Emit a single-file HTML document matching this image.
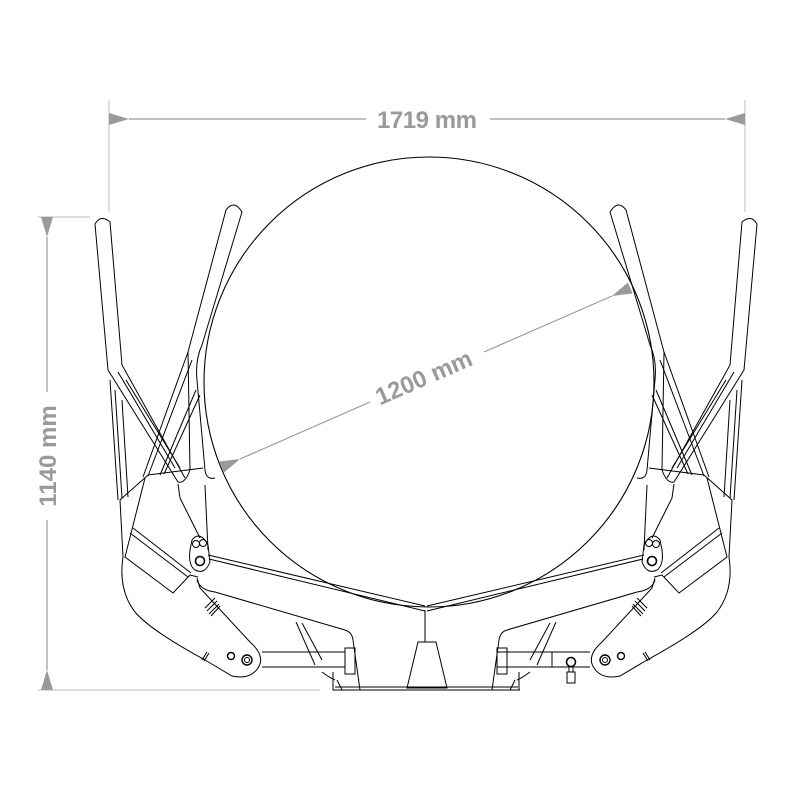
<!DOCTYPE html>
<html><head><meta charset="utf-8"><style>
html,body{margin:0;padding:0;background:#fff;width:800px;height:800px;overflow:hidden}
svg{display:block}
.d{font-family:"Liberation Sans",sans-serif;font-weight:bold;fill:#9a9a9a;font-size:24px}
</style></head><body>
<svg width="800" height="800" viewBox="0 0 800 800" xmlns="http://www.w3.org/2000/svg">
<defs>
<marker id="a" viewBox="0 0 20 12" refX="0" refY="6" markerWidth="20" markerHeight="12" markerUnits="userSpaceOnUse" orient="auto-start-reverse"><path d="M0,6 L20,0 L20,12z" fill="#9a9a9a"/></marker>
<g id="side" fill="none" stroke="#000" stroke-width="1">
  <path d="M95,224 Q101,214 110,222 L122,365 L185,478"/>
  <path d="M95,224 L108,370 L178,482"/>
  <path d="M226,210 Q234,199 242,212 L202,345 Q195,360 197,380 L205,470 Q206,480 215,478"/>
  <path d="M226,210 L188,352 L190,470 Q185,484 178,482"/>
  <path d="M110,380 L118,500 M115,390 L122,498 M122,400 L128,497"/>
  <path d="M188,352 L143,477 M192,360 L148,476 M196,390 L160,475 M200,395 L164,474"/>
  <path d="M118,372 L175,468 M126,380 L180,468"/>
  <path d="M148,475 L203,468"/>
  <path d="M148,475 L120,500 L123,557 Q118,590 135,612 Q150,630 205,660 L232,676 Q250,680 258,668 Q266,656 250,642 L200,588 L197,578"/>
  <path d="M145,478 L125,557 L173,593 L190,575 L198,577"/>
  <path d="M130,533 L188,577 M133,528 L191,573"/>
  <path d="M178,484 L180,498 L200,538 M205,485 L208,550"/>
  <path d="M192,540 Q200,530 208,545 L210,562 Q205,575 195,570 Q188,565 190,550z"/>
  <circle cx="196" cy="544" r="3.5"/><circle cx="203" cy="543" r="3.5"/>
  <circle cx="200" cy="561" r="4.5" stroke-width="1.6"/>
  <path d="M197,580 Q200,590 215,592 L345,630 Q352,632 353,640 L360,690"/>
  <path d="M296,622 L315,665 M302,623 L322,660"/>
  <path d="M322,672 Q330,678 335,680"/>
  <path d="M205,608 L215,598 M207,611 L217,601 M209,614 L219,604 M211,616 L220,606"/>
  <circle cx="231" cy="656" r="3.5" stroke-width="1.4"/>
  <circle cx="247" cy="660" r="5" stroke-width="1.4"/><circle cx="247" cy="660" r="2.5"/>
  <path d="M262,652 L345,652 M262,667 L345,667"/>
  <rect x="345" y="648" width="10" height="26"/>
  <path d="M202,660 L207,652 M204,661 L209,653"/>
  <path d="M333,672 L333,690 L362,690"/>
  <path d="M337,680 L342,690"/>
  <path d="M208,555 L425,606 M209,559 L425,611"/>
</g>
</defs>
<g stroke="#c8c8c8" stroke-width="1.2" fill="none">
<path d="M109,100 L109,212 M745,100 L745,212"/>
<path d="M38,217 L90,217 M38,690 L320,690"/>
</g>
<g stroke="#9a9a9a" stroke-width="1.2" fill="none">
<path d="M129,119 L366,119" marker-start="url(#a)"/>
<path d="M490,119 L725,119" marker-end="url(#a)"/>
<path d="M47,237 L47,392" marker-start="url(#a)"/>
<path d="M47,520 L47,670" marker-end="url(#a)"/>
<path d="M240,459 L370,402" marker-start="url(#a)"/>
<path d="M484,352 L612,296" marker-end="url(#a)"/>
</g>
<text class="d" x="427" y="128" text-anchor="middle" textLength="100">1719 mm</text>
<text class="d" transform="translate(56,456) rotate(-90)" text-anchor="middle">1140 mm</text>
<text class="d" transform="translate(427,385) rotate(-23.5)" text-anchor="middle">1200 mm</text>
<circle cx="429" cy="382" r="225" fill="none" stroke="#000" stroke-width="1.1"/>
<use href="#side"/>
<use href="#side" transform="translate(852,0) scale(-1,1)"/>
<g fill="none" stroke="#000" stroke-width="1">
<path d="M425,610 L425,642"/>
<path d="M418,642 L436,642 L447,688 L407,688z"/>
<path d="M333,690 L520,690 M335,687 L518,687"/>
<path d="M497,652 L552,652 L552,667 L497,667"/>
<circle cx="571" cy="662" r="4.5" stroke-width="1.6"/>
<rect x="567" y="672" width="8" height="11"/>
<path d="M569,667 L569,672 M573,667 L573,672"/>
</g>
</svg>
</body></html>
